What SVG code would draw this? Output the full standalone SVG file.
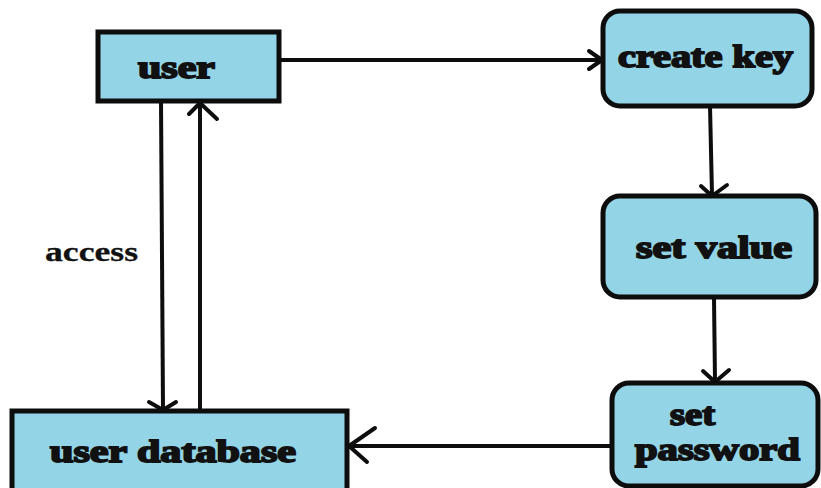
<svg xmlns="http://www.w3.org/2000/svg" width="821" height="488" viewBox="0 0 821 488">
<defs>
<style>
.box{fill:#93d4e7;stroke:#0d0d0d;stroke-width:5}
.lbl{font-family:"Liberation Serif","DejaVu Serif",serif;font-weight:bold;fill:#111;stroke:#111;stroke-width:1.8}
.edge{fill:none;stroke:#0d0d0d;stroke-width:4}
.head{fill:none;stroke:#0d0d0d;stroke-width:4;stroke-linecap:round;stroke-linejoin:round}
</style>
</defs>
<rect width="821" height="488" fill="#fff"/>
<g id="connectors">
<line class="edge" x1="279" y1="60" x2="601" y2="60"/>
<polyline class="head" points="589,51 602,60 589,69"/>
<line class="edge" x1="710" y1="106" x2="712" y2="195"/>
<polyline class="head" points="701,186 712,196 727,185"/>
<line class="edge" x1="714" y1="298" x2="715" y2="381"/>
<polyline class="head" points="703,371 715,382 729,370"/>
<line class="edge" x1="612" y1="446" x2="349" y2="446"/>
<polyline class="head" points="375,428 349,446 367,462"/>
<line class="edge" x1="161" y1="101" x2="163" y2="409"/>
<polyline class="head" points="149,402 163,410 176,402"/>
<line class="edge" x1="200" y1="411" x2="200" y2="103"/>
<polyline class="head" points="189,114 200,103 217,119"/>
<text class="lbl" x="45" y="261" font-size="28" textLength="93" lengthAdjust="spacingAndGlyphs" style="stroke-width:0.3">access</text>
</g>
<g id="user">
<rect class="box" x="98" y="32" width="181" height="69"/>
<text class="lbl" x="138" y="78" font-size="31" textLength="77" lengthAdjust="spacingAndGlyphs">user</text>
</g>
<g id="create-key">
<rect class="box" x="603" y="11" width="209" height="95" rx="17"/>
<text class="lbl" x="618" y="67" font-size="31" textLength="175" lengthAdjust="spacingAndGlyphs">create key</text>
</g>
<g id="set-value">
<rect class="box" x="603" y="196" width="213" height="101" rx="17"/>
<text class="lbl" x="636" y="258" font-size="31" textLength="156" lengthAdjust="spacingAndGlyphs">set value</text>
</g>
<g id="set-password">
<rect class="box" x="612" y="383" width="206" height="103" rx="17"/>
<text class="lbl" x="670" y="425" font-size="31" textLength="45" lengthAdjust="spacingAndGlyphs">set</text>
<text class="lbl" x="635" y="460" font-size="31" textLength="165" lengthAdjust="spacingAndGlyphs">password</text>
</g>
<g id="user-database">
<rect class="box" x="12" y="411" width="335" height="90"/>
<text class="lbl" x="50" y="462" font-size="31" textLength="246" lengthAdjust="spacingAndGlyphs">user database</text>
</g>
</svg>
